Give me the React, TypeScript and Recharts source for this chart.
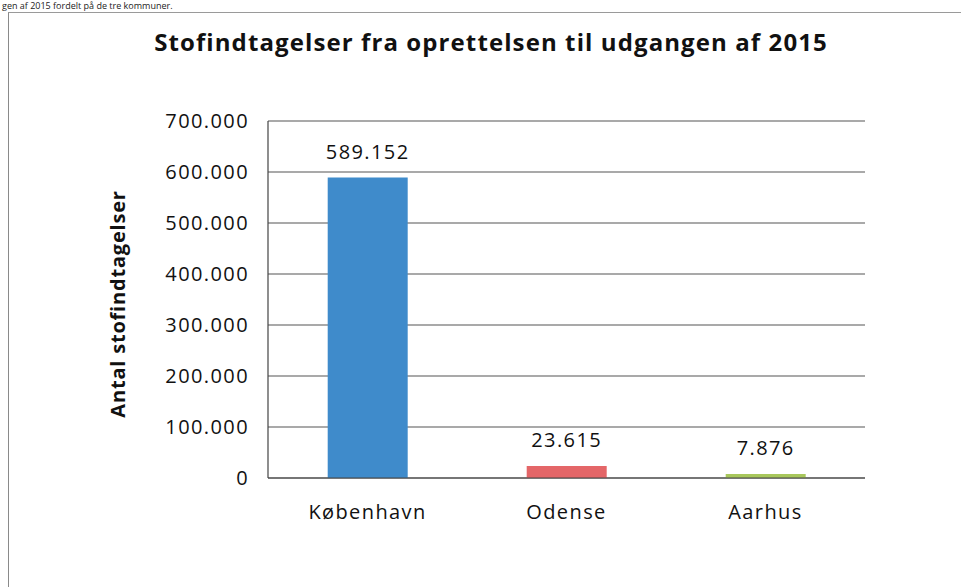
import { BarChart, Bar, XAxis, YAxis, CartesianGrid, Cell, LabelList } from 'recharts'

const kommuner = ['København', 'Odense', 'Aarhus']
const stofindtagelser = [589152, 23615, 7876]
const yTicks = [0, 100000, 200000, 300000, 400000, 500000, 600000, 700000]
const barColors = ['#3f8bcb', '#e46668', '#a8c75c']

const data = kommuner.map((k, i) => ({ kommune: k, antal: stofindtagelser[i] }))

// dansk tusindtalsseparator
const fmt = (v: number) => String(Math.round(v)).replace(/\B(?=(\d{3})+(?!\d))/g, '.')

const FONT = '"Open Sans", Lato, sans-serif'
const tickStyle = { fill: '#111', fontSize: 20, fontFamily: FONT, letterSpacing: 1.4 }

export default function App() {
  return (
    <div style={{ position: 'absolute', left: 0, top: 0, width: 961, height: 587, background: '#fff', overflow: 'hidden', fontFamily: FONT }}>
      <div style={{ position: 'absolute', left: 2, top: 0, fontSize: 9, lineHeight: '11px', color: '#222', whiteSpace: 'nowrap', zIndex: 2 }}>
        gen af 2015 fordelt på de tre kommuner.
      </div>
      {/* rammen om figuren */}
      <div style={{ position: 'absolute', left: 8, top: 12, width: 960, height: 600, borderLeft: '1.5px solid #8a8a8a', borderTop: '1.5px solid #9a9a9a' }} />
      <div
        style={{
          position: 'absolute', left: 0, width: 982, top: 25, textAlign: 'center',
          fontSize: 24, fontWeight: 700, letterSpacing: 1.1, color: '#111', whiteSpace: 'nowrap',
        }}
      >
        Stofindtagelser fra oprettelsen til udgangen af 2015
      </div>
      <div
        style={{
          position: 'absolute', left: 117, top: 304, transform: 'translate(-50%, -50%) rotate(-90deg)',
          fontSize: 20, fontWeight: 700, letterSpacing: 0.8, color: '#111', whiteSpace: 'nowrap',
        }}
      >
        Antal stofindtagelser
      </div>
      <div style={{ position: 'absolute', left: 0, top: 0 }}>
        <BarChart width={961} height={587} data={data} margin={{ top: 121, right: 96, left: 0, bottom: 0 }} barCategoryGap="30%">
          <CartesianGrid vertical={false} stroke="#555" strokeWidth={1.2} />
          <XAxis
            dataKey="kommune"
            height={109}
            axisLine={{ stroke: '#444', strokeWidth: 1.2 }}
            tickLine={false}
            tickMargin={21}
            tick={tickStyle}
          />
          <YAxis
            width={268}
            domain={[0, 700000]}
            ticks={yTicks}
            tickFormatter={fmt}
            axisLine={{ stroke: '#444', strokeWidth: 1.2 }}
            tickLine={false}
            tickMargin={13}
            tick={tickStyle}
          />
          <Bar dataKey="antal" isAnimationActive={false}>
            {data.map((d, i) => (
              <Cell key={d.kommune} fill={barColors[i]} />
            ))}
            <LabelList dataKey="antal" position="top" offset={19} formatter={(v: any) => fmt(Number(v))} style={tickStyle} />
          </Bar>
        </BarChart>
      </div>
    </div>
  )
}
